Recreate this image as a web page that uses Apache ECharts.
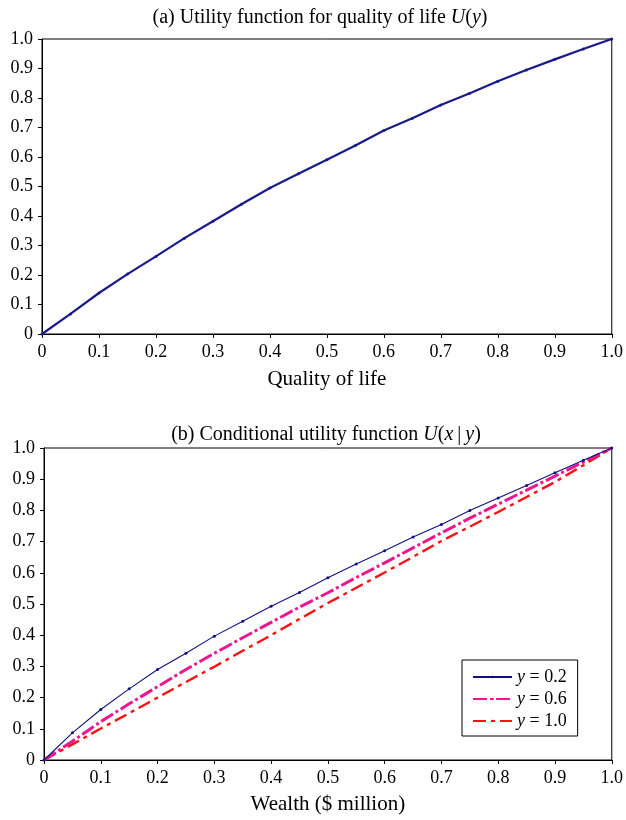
<!DOCTYPE html>
<html><head><meta charset="utf-8">
<script src="https://cdn.jsdelivr.net/npm/echarts@6/dist/echarts.min.js"></script>
<style>html,body{margin:0;padding:0;background:#fff}#c{width:626px;height:820px}</style>
</head><body><div id="c"></div>
<script>
const xs = [0,0.05,0.1,0.15,0.2,0.25,0.3,0.35,0.4,0.45,0.5,0.55,0.6,0.65,0.7,0.75,0.8,0.85,0.9,0.95,1.0];
const uQuality = [0,0.068,0.139,0.203,0.263,0.325,0.382,0.440,0.495,0.543,0.591,0.639,0.690,0.731,0.776,0.815,0.857,0.895,0.931,0.966,1.0];
const uY02 = [0,0.087,0.162,0.228,0.290,0.342,0.397,0.445,0.493,0.537,0.584,0.628,0.671,0.715,0.755,0.800,0.840,0.880,0.921,0.961,1.0];
const uY06 = [0,0.060,0.123,0.180,0.235,0.290,0.342,0.392,0.441,0.490,0.536,0.585,0.632,0.680,0.728,0.775,0.820,0.865,0.910,0.955,1.0];
const uY10 = [0,0.050,0.101,0.150,0.200,0.250,0.299,0.350,0.400,0.452,0.503,0.552,0.601,0.651,0.702,0.748,0.795,0.843,0.891,0.945,1.0];
const tickVals = [0,0.1,0.2,0.3,0.4,0.5,0.6,0.7,0.8,0.9,1.0];
const seriesNames = ['y = 0.2','y = 0.6','y = 1.0'];

const pairs = v => xs.map((x,i)=>[x,v[i]]);
const fmt = v => Math.abs(v) < 1e-9 ? '0' : v.toFixed(1);
const FONT = 'Liberation Serif';
const richT = { i: { fontStyle: 'italic', fontFamily: FONT, fontSize: 20, color: '#000' } };
const richL = { i: { fontStyle: 'italic', fontFamily: FONT, fontSize: 18, color: '#000', lineHeight: 18 } };

function xAxis(gi, name, gap){
  return { type:'value', gridIndex:gi, min:0, max:1, interval:0.1,
    name, nameLocation:'middle', nameGap:gap,
    nameTextStyle:{ fontFamily:FONT, fontSize:21, color:'#000' },
    axisLine:{ show:true, lineStyle:{ color:'#000', width:1 } },
    axisTick:{ show:true, inside:false, length:4, lineStyle:{ color:'#000' } },
    axisLabel:{ formatter:fmt, fontFamily:FONT, fontSize:18, color:'#000', margin:9 },
    splitLine:{ show:false } };
}
function yAxis(gi){
  return { type:'value', gridIndex:gi, min:0, max:1, interval:0.1,
    axisLine:{ show:true, lineStyle:{ color:'#000', width:1 } },
    axisTick:{ show:true, length:4, lineStyle:{ color:'#000' } },
    axisLabel:{ formatter:fmt, fontFamily:FONT, fontSize:18, color:'#000', margin:9 },
    splitLine:{ show:false } };
}

const chart = echarts.init(document.getElementById('c'), null, { renderer:'canvas' });
chart.setOption({
  animation:false,
  backgroundColor:'#fff',
  title:[
    { text:'(a) Utility function for quality of life {i|U}({i|y})', left:315, top:3, textAlign:'center',
      textStyle:{ fontFamily:FONT, fontSize:20, fontWeight:'normal', color:'#000', rich:richT } },
    { text:'(b) Conditional utility function {i|U}({i|x}\u2009|\u2009{i|y})', left:321, top:420, textAlign:'center',
      textStyle:{ fontFamily:FONT, fontSize:20, fontWeight:'normal', color:'#000', rich:richT } }
  ],
  grid:[
    { left:42, top:39, width:573, height:295, show:true, borderColor:'#000', borderWidth:1, containLabel:false },
    { left:44, top:448, width:569, height:312, show:true, borderColor:'#000', borderWidth:1, containLabel:false }
  ],
  xAxis:[ xAxis(0,'Quality of life',35), xAxis(1,'Wealth ($ million)',34) ],
  yAxis:[ yAxis(0), yAxis(1) ],
  legend:{
    data:seriesNames, orient:'vertical', left:462, top:660,
    padding:[8,11,6,10], itemGap:4, itemWidth:39, itemHeight:3,
    borderColor:'#000', borderWidth:1, backgroundColor:'#fff', borderRadius:0,
    formatter: n => '{i|y}' + n.slice(1),
    textStyle:{ fontFamily:FONT, fontSize:18, color:'#000', lineHeight:18, rich:richL }
  },
  series:[
    { type:'line', name:'U(y)', xAxisIndex:0, yAxisIndex:0, data:pairs(uQuality),
      symbol:'circle', symbolSize:3, itemStyle:{ color:'#1a1a8c' },
      lineStyle:{ color:'#1a1a8c', width:2.2 } },
    { type:'line', name:seriesNames[0], xAxisIndex:1, yAxisIndex:1, data:pairs(uY02),
      symbol:'circle', symbolSize:3, itemStyle:{ color:'#101080' },
      lineStyle:{ color:'#101080', width:1.1 }, z:5 },
    { type:'line', name:seriesNames[1], xAxisIndex:1, yAxisIndex:1, data:pairs(uY06),
      symbol:'none', itemStyle:{ color:'#ee1590' },
      lineStyle:{ color:'#ee1590', width:3, type:[14,3,3,3] }, z:4 },
    { type:'line', name:seriesNames[2], xAxisIndex:1, yAxisIndex:1, data:pairs(uY10),
      symbol:'none', itemStyle:{ color:'#ff1010' },
      lineStyle:{ color:'#ff1010', width:2.4, type:[13,5,4,5] }, z:3 }
  ]
});
</script></body></html>
